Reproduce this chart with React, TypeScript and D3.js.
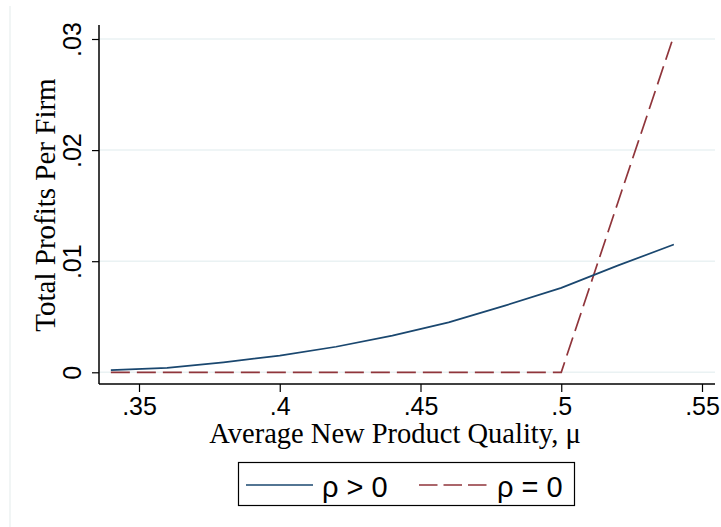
import * as d3 from 'd3'
import { useEffect, useRef } from 'react'

// average new product quality (mu) grid
const muValues = [0.34, 0.36, 0.38, 0.4, 0.42, 0.44, 0.46, 0.48, 0.5, 0.52, 0.54]
// rho > 0
const profitsRhoPos = [0.0002, 0.0004, 0.0009, 0.0015, 0.0023, 0.0033, 0.0045, 0.006, 0.0076, 0.0096, 0.0115]
// rho = 0
const profitsRhoZero = [0, 0, 0, 0, 0, 0, 0, 0, 0, 0.0152, 0.0303]

const xTicks = [0.35, 0.4, 0.45, 0.5, 0.55]
const yTicks = [0, 0.01, 0.02, 0.03]
const legendLabels = ['ρ > 0', 'ρ = 0']

const W = 721
const H = 527
const BLUE = '#1a476f'
const RED = '#90353b'
const GRID = '#eaf2f3'
const SANS = 'Arial, "Liberation Sans", Helvetica, sans-serif'
const SERIF = '"Times New Roman", "Liberation Serif", Times, serif'

const fmt = (v: number) => (v === 0 ? '0' : d3.format('')(v).replace(/^0\./, '.'))

export default function App() {
  const svgRef = useRef<SVGSVGElement | null>(null)

  useEffect(() => {
    if (!svgRef.current) return
    const svg = d3.select(svgRef.current)
    svg.selectAll('*').remove()

    const left = 99
    const right = 715
    const top = 25
    const bottom = 384

    const x = d3.scaleLinear().domain([0.35, 0.55]).range([139, 702])
    const y = d3.scaleLinear().domain([0, 0.03]).range([372.3, 39])

    svg.append('rect').attr('width', W).attr('height', H).attr('fill', '#fff')
    // faint graph region outline
    svg.append('line').attr('x1', 10).attr('x2', 10).attr('y1', 6).attr('y2', H)
      .attr('stroke', '#e8eeef').attr('stroke-width', 1.2)

    // gridlines
    svg.append('g').selectAll('line').data(yTicks).join('line')
      .attr('x1', left).attr('x2', right)
      .attr('y1', d => y(d)).attr('y2', d => y(d))
      .attr('stroke', GRID).attr('stroke-width', 1.5)

    const pts = (vals: number[]) => muValues.map((m, i) => [m, vals[i]] as [number, number])
    const line = d3.line<[number, number]>().x(d => x(d[0])).y(d => y(d[1]))

    svg.append('path').datum(pts(profitsRhoZero))
      .attr('d', line).attr('fill', 'none').attr('stroke', RED)
      .attr('stroke-width', 1.7).attr('stroke-dasharray', '19 7')
    svg.append('path').datum(pts(profitsRhoPos))
      .attr('d', line).attr('fill', 'none').attr('stroke', BLUE)
      .attr('stroke-width', 1.7)

    // x axis
    const gx = svg.append('g').attr('transform', `translate(0,${bottom})`)
      .call(d3.axisBottom(x).tickValues(xTicks).tickFormat(d => fmt(+d)).tickSize(8).tickPadding(5).tickSizeOuter(0))
    gx.select('.domain').attr('d', `M${left},0H${right}`).attr('stroke', '#000').attr('stroke-width', 1.5)
    gx.selectAll('.tick line').attr('stroke', '#000').attr('stroke-width', 1.2)
    gx.selectAll('.tick text').attr('font-family', SANS).attr('font-size', 25).attr('fill', '#000')

    // y axis
    const gy = svg.append('g').attr('transform', `translate(${left},0)`)
      .call(d3.axisLeft(y).tickValues(yTicks).tickFormat(d => fmt(+d)).tickSize(7).tickSizeOuter(0))
    gy.select('.domain').attr('d', `M0,${top}V${bottom}`).attr('stroke', '#000').attr('stroke-width', 1.5)
    gy.selectAll('.tick line').attr('stroke', '#000').attr('stroke-width', 1.2)
    gy.selectAll('.tick text')
      .attr('x', null).attr('dy', null)
      .attr('transform', 'translate(-18,0) rotate(-90)')
      .attr('text-anchor', 'middle')
      .attr('font-family', SANS).attr('font-size', 25).attr('fill', '#000')

    // axis titles
    svg.append('text').attr('x', 395).attr('y', 443).attr('text-anchor', 'middle')
      .attr('font-family', SERIF).attr('font-size', 28.5).text('Average New Product Quality, μ')
    svg.append('text').attr('transform', 'translate(55,205) rotate(-90)').attr('text-anchor', 'middle')
      .attr('font-family', SERIF).attr('font-size', 29).text('Total Profits Per Firm')

    // legend
    const lg = svg.append('g')
    lg.append('rect').attr('x', 238.5).attr('y', 462.5).attr('width', 336).attr('height', 43)
      .attr('fill', '#fff').attr('stroke', '#000').attr('stroke-width', 1.2)
    const items = [
      { x1: 246, x2: 313, tx: 322, color: BLUE, dash: null as string | null },
      { x1: 419, x2: 487, tx: 497, color: RED, dash: '18.5 6' },
    ]
    items.forEach((it, i) => {
      lg.append('line').attr('x1', it.x1).attr('x2', it.x2).attr('y1', 485).attr('y2', 485)
        .attr('stroke', it.color).attr('stroke-width', 1.7).attr('stroke-dasharray', it.dash)
      lg.append('text').attr('x', it.tx).attr('y', 496.5).attr('font-family', SANS)
        .attr('font-size', 29).text(legendLabels[i])
    })
  }, [])

  return (
    <svg ref={svgRef} width={W} height={H}
      style={{ position: 'absolute', left: 0, top: 0, display: 'block' }} />
  )
}
